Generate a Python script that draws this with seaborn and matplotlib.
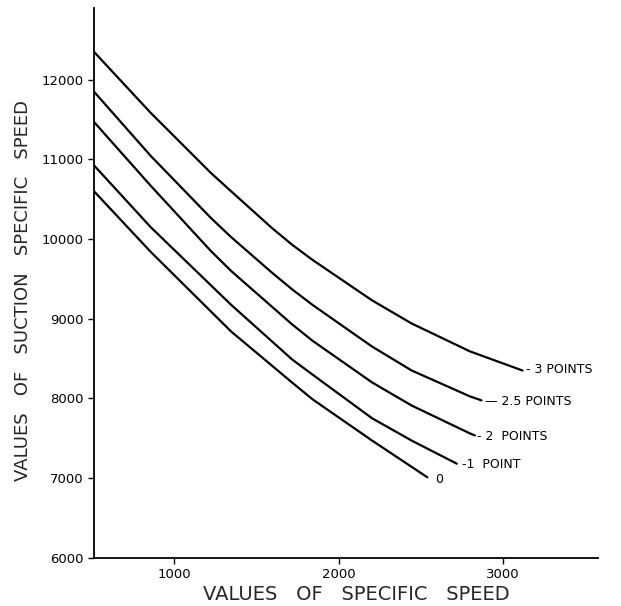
import matplotlib
matplotlib.use("Agg")
import matplotlib.pyplot as plt
import seaborn as sns
import pandas as pd

# curves: specific speed -> suction specific speed
x_3pt = [510, 855, 1222, 1345, 1593, 1716, 1840, 2204, 2445, 2800, 3120]
y_3pt = [12350, 11585, 10830, 10600, 10140, 9930, 9740, 9230, 8940, 8590, 8350]

x_25pt = [510, 855, 1222, 1345, 1593, 1716, 1840, 2204, 2445, 2800, 2870]
y_25pt = [11850, 11045, 10265, 10025, 9580, 9370, 9175, 8650, 8350, 8025, 7975]

x_2pt = [510, 855, 1222, 1345, 1716, 1840, 2204, 2445, 2800, 2830]
y_2pt = [11470, 10670, 9850, 9600, 8930, 8725, 8200, 7910, 7560, 7535]

x_1pt = [510, 855, 1345, 1716, 1840, 2204, 2445, 2720]
y_1pt = [10925, 10150, 9175, 8490, 8300, 7750, 7470, 7180]

x_0 = [510, 855, 1345, 1716, 1840, 2204, 2540]
y_0 = [10600, 9840, 8840, 8200, 7990, 7470, 7010]

curve_names = ["- 3 POINTS", "— 2.5 POINTS", "- 2  POINTS", "-1  POINT", "0"]
label_x = [3140, 2890, 2840, 2750, 2590]
label_y = [8360, 7960, 7520, 7170, 6980]

x_ticks = [1000, 2000, 3000]
y_ticks = [6000, 7000, 8000, 9000, 10000, 11000, 12000]

frames = []
for name, xs, ys in zip(curve_names,
                        [x_3pt, x_25pt, x_2pt, x_1pt, x_0],
                        [y_3pt, y_25pt, y_2pt, y_1pt, y_0]):
    frames.append(pd.DataFrame({"ns": xs, "s": ys, "curve": name}))
df = pd.concat(frames, ignore_index=True)

sns.set_style("ticks")
plt.rcParams["font.family"] = ["DejaVu Sans"]

fig = plt.figure(figsize=(6.21, 6.06), dpi=100)
ax = fig.add_axes([0.1514, 0.0797, 0.8116, 0.907])

sns.lineplot(data=df, x="ns", y="s", units="curve", estimator=None,
             color="black", linewidth=1.6, sort=False, ax=ax)

for name, lx, ly in zip(curve_names, label_x, label_y):
    ax.text(lx, ly, name, fontsize=9, ha="left", va="center", color="black")

ax.set_xlim(510, 3580)
ax.set_ylim(6000, 12900)
ax.set_xticks(x_ticks)
ax.set_yticks(y_ticks)
ax.tick_params(axis="both", direction="out", length=4, width=1, labelsize=9.5, colors="black")

ax.spines["top"].set_visible(False)
ax.spines["right"].set_visible(False)
for sp in ["left", "bottom"]:
    ax.spines[sp].set_linewidth(1.3)
    ax.spines[sp].set_color("black")

ax.set_xlabel("VALUES   OF   SPECIFIC   SPEED", fontsize=14)
ax.set_ylabel("VALUES   OF   SUCTION   SPECIFIC   SPEED", fontsize=13)
ax.xaxis.set_label_coords(0.52, -0.05)
ax.yaxis.set_label_coords(-0.123, 0.487)

fig.savefig("out.png", dpi=100, facecolor="white")
